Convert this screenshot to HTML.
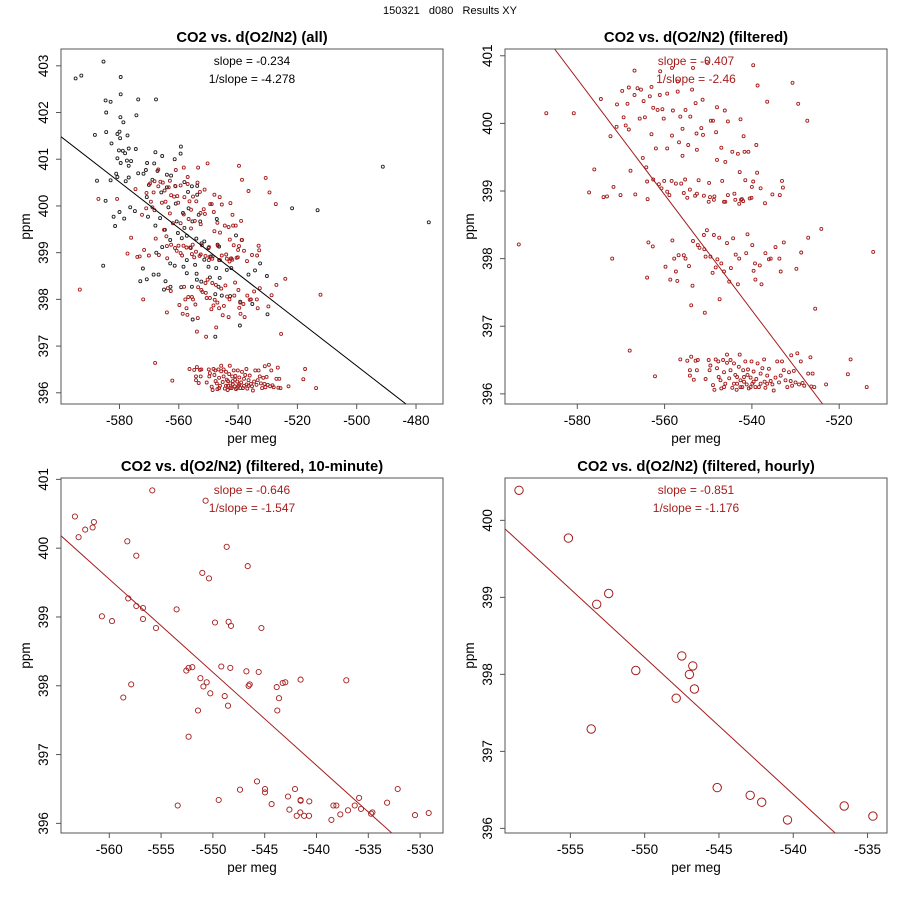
<!DOCTYPE html>
<html><head><meta charset="utf-8"><style>
html,body{margin:0;padding:0;background:#fff;}
svg{display:block;font-family:"Liberation Sans",sans-serif;}
</style></head><body>
<svg id="chart" width="900" height="900" viewBox="0 0 900 900">
<text x="450" y="14" text-anchor="middle" font-size="11" fill="#000" xml:space="preserve">150321   d080   Results XY</text>
</svg>
<script>
// ---- data (per meg, ppm) ----
const filteredX = [-593.4,-587.1,-580.8,-577.3,-576.1,-574.6,-574.0,-572.4,-572.0,-571.7,-571.0,-570.9,-569.7,-569.4,-568.9,-568.5,-568.2,-568.2,-567.8,-568.0,-566.9,-566.9,-566.2,-565.7,-565.4,-565.0,-564.8,-564.5,-564.2,-563.9,-563.7,-564.0,-563.4,-563.0,-563.0,-562.7,-562.6,-562.2,-562.0,-561.6,-561.1,-561.0,-560.5,-560.2,-559.4,-560.1,-559.8,-559.4,-558.9,-558.7,-558.4,-558.1,-558.3,-558.2,-557.8,-557.1,-557.0,-556.7,-556.4,-556.2,-555.9,-555.9,-555.6,-555.3,-555.2,-555.2,-554.6,-554.4,-554.1,-553.9,-553.9,-553.7,-553.6,-553.5,-553.0,-552.9,-552.7,-552.6,-552.2,-552.0,-551.6,-551.3,-551.2,-550.8,-550.6,-550.6,-549.8,-549.4,-549.0,-548.9,-548.7,-548.6,-548.2,-548.0,-548.0,-547.9,-547.5,-547.4,-547.0,-546.8,-546.4,-546.2,-546.1,-545.5,-545.5,-545.2,-544.5,-544.3,-544.0,-543.7,-543.2,-543.2,-542.8,-542.6,-542.5,-542.3,-541.9,-541.7,-541.5,-541.0,-540.8,-540.5,-540.0,-539.9,-539.7,-539.6,-539.3,-539.2,-539.0,-538.8,-538.7,-539.7,-538.2,-538.0,-537.8,-537.0,-536.9,-536.5,-536.1,-535.7,-535.3,-534.6,-533.7,-533.6,-533.4,-533.1,-532.9,-532.7,-530.7,-529.8,-529.4,-528.7,-527.3,-527.1,-525.5,-524.1,-512.2,
-558.3,-550.3,-553.5,-557.0,
-564.0,-562.6,-561.3,-560.7,-559.4,-557.4,-554.8,-554.2,-552.6,-551.0,-549.9,-549.6,-546.1,-543.8,-542.9,-542.0,-540.1,-573.2,-570.1,-566.7,
-552.4,-550.9,-549.5,-548.3,-547.0,-546.4,-544.8,-542.9,-541.3,-551.0,-548.7,-545.7,-550.3,-555.6,-556.8,-557.4,
-556.4,-554.8,-554.2,-554.2,-553.3,-552.9,-552.4,-552.6,-549.9,-549.5,-549.7,-548.9,-548.6,-548.3,-548.0,-547.7,-547.2,-547.0,-546.6,-546.4,-546.1,-545.7,-545.7,-545.2,-544.9,-544.9,-544.5,-544.1,-543.8,-543.5,-543.4,-543.0,-542.8,-542.6,-542.2,-542.0,-541.8,-541.5,-541.2,-540.9,-540.7,-540.3,-540.1,-539.9,-539.6,-539.2,-539.0,-538.7,-538.4,-538.0,-537.6,-537.2,-537.1,-536.9,-536.5,-536.1,-535.7,-535.3,-535.0,-534.6,-534.2,-533.8,-533.4,-533.1,-532.7,-532.3,-531.9,-531.5,-531.1,-531.0,-530.8,-530.4,-530.0,-529.6,-529.2,-528.8,-528.4,-528.0,-527.1,-526.6,-526.4,-526.1,-525.7,-523.0,-518.0,-517.4,-513.7,
-544.1,-542.6,-540.3,-543.4,-541.8,-539.6,-538.0,-541.0,-536.5,-546.4,-547.6];
const filteredY = [398.21,400.15,400.15,398.98,399.32,400.36,398.91,399.81,398.0,399.06,399.95,400.28,400.48,400.09,399.97,400.29,399.91,400.53,399.30,396.64,400.78,400.42,400.52,400.07,400.50,399.49,400.33,400.09,399.35,398.88,398.24,397.72,400.40,399.84,400.54,398.18,400.23,396.26,399.63,400.20,400.42,400.77,400.21,400.07,400.44,399.15,397.88,399.63,398.94,397.69,399.15,400.19,399.82,398.27,398.0,397.67,400.47,399.72,400.10,399.11,399.92,399.52,398.97,399.17,400.20,398.0,399.68,397.89,400.10,396.55,397.31,400.50,397.60,398.26,398.93,400.30,399.85,399.61,399.16,398.16,399.93,400.35,399.83,397.20,396.22,398.03,399.12,400.04,397.79,400.04,398.87,398.92,399.87,400.24,399.46,397.99,398.31,397.40,399.64,399.15,398.84,400.19,399.43,400.03,398.94,397.66,399.58,398.30,398.96,398.06,399.55,397.62,399.28,400.06,398.87,398.88,399.81,399.58,399.16,398.36,399.58,398.89,399.06,398.20,399.14,397.82,397.93,397.69,399.68,399.27,400.56,400.86,397.90,399.04,397.62,398.82,398.08,400.32,397.99,398.0,398.95,398.17,398.0,398.94,397.81,399.15,399.05,398.24,400.60,397.85,400.29,398.09,400.04,398.31,397.26,398.44,398.10,
400.82,400.91,400.82,400.62,
399.14,399.17,399.10,399.04,398.99,399.11,398.90,399.02,398.96,398.93,398.84,398.91,398.84,398.87,398.81,398.85,398.90,398.92,398.94,398.95,
398.20,398.14,398.03,397.87,397.93,397.81,397.86,398.0,398.08,398.35,398.35,398.23,398.42,398.05,398.05,397.81,
396.51,396.49,396.35,396.27,396.21,396.49,396.50,396.35,396.50,396.42,396.35,396.13,396.06,396.51,396.38,396.48,396.20,396.08,396.50,396.32,396.15,396.46,396.58,396.23,396.35,396.50,396.09,396.45,396.28,396.06,396.15,396.40,396.58,396.20,396.10,396.35,396.25,396.48,396.14,396.36,396.08,396.24,396.48,396.15,396.33,396.10,396.22,396.45,396.10,396.30,396.38,396.51,396.18,396.09,396.27,396.37,396.19,396.14,396.05,396.24,396.48,396.17,396.27,396.48,396.35,396.20,396.10,396.32,396.19,396.57,396.12,396.34,396.17,396.60,396.14,396.48,396.16,396.12,396.30,396.54,396.11,396.30,396.10,396.14,396.29,396.51,396.10,
396.15,396.10,396.10,396.25,396.18,396.18,396.15,396.28,396.15,396.10,396.25];
const excludedX = [-594.8,-592.9,-585.4,-579.6,-579.6,-584.7,-583.0,-573.7,-567.7,-584.5,-579.7,-574.3,-578.7,-588.3,-584.5,-580.7,-580.0,-577.3,-579.8,-582.7,-576.9,-574.5,-580.2,-578.9,-578.1,-559.3,-559.4,-567.9,-565.6,-561.4,-580.7,-579.6,-577.5,-576.1,-576.9,-570.7,-568.3,-573.7,-571.9,-571.1,-581.1,-580.7,-587.6,-583.0,-577.9,-576.9,-570.1,-568.9,-570.8,-567.2,-564.0,-562.6,-555.6,-556.9,-558.1,-561.2,-564.0,-565.9,-584.7,-580.0,-576.4,-574.8,-570.4,-567.9,-582.0,-581.5,-578.4,-566.3,-563.5,-561.0,-558.6,-560.7,-558.1,-555.4,-553.3,-552.8,-547.2,-564.7,-562.9,-560.3,-557.3,-554.1,-552.3,-550.0,-546.9,-546.4,-565.6,-567.6,-562.9,-561.4,-558.4,-557.3,-554.5,-550.0,-547.4,-543.8,-542.3,-540.7,-538.7,-532.6,-534.3,-536.5,-530.3,-572.1,-568.5,-566.8,-573.0,-570.8,-564.5,-565.0,-562.8,-559.2,-555.6,-553.9,-552.4,-549.5,-546.2,-546.6,-547.7,-545.5,-542.7,-539.3,-535.2,-530.1,-555.3,-547.7,-539.4,-585.5,-521.8,-513.2,-491.2,-475.7,-553.8,-553.8,-556.7,-559.0,-551.4,-556.0,-549.2,-551.4,-557.3,-554.0];
const excludedY = [402.73,402.79,403.09,402.76,402.39,402.26,402.23,402.28,402.28,402.0,401.90,401.94,401.79,401.52,401.58,401.54,401.59,401.51,401.45,401.34,401.23,401.22,401.19,401.18,401.13,401.27,401.12,401.15,401.07,401.0,401.02,400.92,400.97,400.96,400.86,400.92,400.91,400.70,400.69,400.77,400.69,400.62,400.54,400.55,400.53,400.61,400.45,400.56,400.19,400.75,400.67,400.65,400.42,400.30,400.51,400.43,400.40,400.29,400.11,399.87,399.97,399.89,399.77,399.58,399.77,399.57,399.73,399.74,399.97,400.05,399.85,399.67,399.53,399.67,399.81,399.67,399.72,399.49,399.27,399.42,399.36,399.30,399.20,399.10,399.17,399.13,399.12,399.0,398.77,398.72,398.70,398.84,398.74,398.70,398.67,398.63,398.67,399.37,399.27,398.77,398.62,398.53,398.50,398.66,398.53,398.53,398.39,398.43,398.39,398.21,398.27,398.26,398.27,398.42,398.38,398.47,398.46,398.27,398.11,398.08,398.07,397.95,397.90,397.68,397.57,397.20,397.44,398.72,399.95,399.91,400.84,399.65,400.43,400.24,399.95,399.31,399.24,399.10,398.92,398.85,398.56,398.55];
const tenMinX = [-563.32,-562.96,-562.32,-561.61,-561.48,-555.85,-550.70,-558.26,-557.39,-548.67,-546.64,-551.02,-550.38,-558.17,-557.39,-556.75,-560.71,-559.74,-556.75,-555.49,-553.50,-549.80,-548.48,-548.25,-545.32,-552.57,-552.34,-551.99,-549.19,-548.32,-546.77,-545.58,-551.21,-550.60,-550.92,-546.55,-546.45,-550.25,-548.86,-548.54,-543.84,-543.26,-543.01,-541.53,-543.62,-543.78,-537.12,-557.88,-558.65,-551.44,-552.34,-545.74,-547.38,-544.97,-544.97,-542.07,-542.75,-541.53,-541.53,-540.69,-549.44,-553.40,-544.33,-542.62,-541.56,-541.91,-541.20,-540.72,-538.56,-538.37,-538.08,-537.70,-536.96,-536.31,-535.89,-535.70,-534.73,-534.60,-533.19,-532.16,-530.49,-529.17];
const tenMinY = [400.46,400.16,400.27,400.30,400.38,400.84,400.69,400.10,399.89,400.02,399.74,399.64,399.56,399.27,399.16,399.13,399.01,398.94,398.97,398.84,399.11,398.92,398.93,398.87,398.84,398.22,398.26,398.27,398.28,398.26,398.21,398.20,398.11,398.05,397.99,398.00,398.02,397.89,397.85,397.71,397.98,398.04,398.05,398.09,397.82,397.64,398.08,398.02,397.83,397.64,397.26,396.61,396.49,396.50,396.45,396.50,396.39,396.34,396.33,396.32,396.34,396.26,396.28,396.20,396.16,396.11,396.11,396.11,396.05,396.26,396.26,396.13,396.19,396.26,396.37,396.21,396.14,396.16,396.30,396.50,396.12,396.15];
const hourlyX = [-558.46,-555.13,-553.23,-552.42,-550.6,-547.5,-546.76,-546.99,-546.65,-547.88,-553.6,-545.12,-542.9,-542.12,-540.39,-536.57,-534.64];
const hourlyY = [400.39,399.77,398.91,399.05,398.05,398.24,398.11,398.0,397.81,397.69,397.29,396.53,396.43,396.34,396.11,396.29,396.16];
// regression lines (endpoints in data units)
const fitAllX = [-599.7,-483.4], fitAllY = [401.48,395.76];
const fitFiltX = [-585.2,-523.8], fitFiltY = [401.10,395.85];
const fitTenX = [-564.66,-532.74], fitTenY = [400.18,395.86];
const fitHourX = [-559.40,-537.18], fitHourY = [399.89,395.94];
// tick labels
const p1XTicks = [-580,-560,-540,-520,-500,-480], p1YTicks = [396,397,398,399,400,401,402,403];
const p2XTicks = [-580,-560,-540,-520], p2YTicks = [396,397,398,399,400,401];
const p3XTicks = [-560,-555,-550,-545,-540,-535,-530], p3YTicks = [396,397,398,399,400,401];
const p4XTicks = [-555,-550,-545,-540,-535], p4YTicks = [396,397,398,399,400];

const NS = "http://www.w3.org/2000/svg";
const svg = document.getElementById('chart');
const RED = "#a51c1c";
function mk(tag, attrs, parent){const e=document.createElementNS(NS,tag);for(const k in attrs)e.setAttribute(k,attrs[k]);(parent||svg).appendChild(e);return e;}
function lin(d0,d1,r0,r1){return v=>r0+(v-d0)*(r1-r0)/(d1-d0);}

function panel(cfg){
  const g = mk('g',{});
  
  
  const sx = lin(cfg.xd[0],cfg.xd[1],cfg.L,cfg.R), sy = lin(cfg.yd[0],cfg.yd[1],cfg.B,cfg.T);
  const cid='clip-'+cfg.name;
  const defs=mk('defs',{},g); const cp=mk('clipPath',{id:cid},defs); mk('rect',{x:cfg.L,y:cfg.T,width:cfg.R-cfg.L,height:cfg.B-cfg.T},cp);
  const t = mk('text',{x:(cfg.L+cfg.R)/2,y:cfg.T-7,'text-anchor':'middle','font-size':'14.8','font-weight':'bold'},g);
  t.textContent=cfg.title;
  
  
  const box = mk('rect',{x:cfg.L,y:cfg.T,width:cfg.R-cfg.L,height:cfg.B-cfg.T,fill:'none',stroke:'#555','stroke-width':'1'},g);
  
  
  const xa = mk('g',{},g);
  
  
  mk('line',{x1:sx(cfg.xt[0]),x2:sx(cfg.xt[cfg.xt.length-1]),y1:cfg.B,y2:cfg.B,stroke:'#555'},xa);
  cfg.xt.forEach(v=>{
    mk('line',{x1:sx(v),x2:sx(v),y1:cfg.B,y2:cfg.B+5,stroke:'#555'},xa);
    const l=mk('text',{x:sx(v),y:cfg.B+21,'text-anchor':'middle','font-size':'13.5'},xa); l.textContent=String(v);
    
    
  });
  const xt=mk('text',{x:(cfg.L+cfg.R)/2,y:cfg.B+39,'text-anchor':'middle','font-size':'13.5'},g); xt.textContent='per meg';
  
  
  const ya = mk('g',{},g);
  
  
  mk('line',{x1:cfg.L,x2:cfg.L,y1:sy(cfg.yt[0]),y2:sy(cfg.yt[cfg.yt.length-1]),stroke:'#555'},ya);
  cfg.yt.forEach(v=>{
    mk('line',{x1:cfg.L-5,x2:cfg.L,y1:sy(v),y2:sy(v),stroke:'#555'},ya);
    const xx=cfg.L-13, yy=sy(v);
    const l=mk('text',{x:xx,y:yy,'text-anchor':'middle','font-size':'13.5',transform:`rotate(-90 ${xx} ${yy})`},ya); l.textContent=String(v);
    
    
  });
  const yx=cfg.L-31, yy=(cfg.T+cfg.B)/2;
  const ytl=mk('text',{x:yx,y:yy,'text-anchor':'middle','font-size':'13.5',transform:`rotate(-90 ${yx} ${yy})`},g); ytl.textContent='ppm';
  
  
  const pg = mk('g',{'clip-path':`url(#${cid})`},g);
  
  
  cfg.series.forEach(s=>{
    for(let i=0;i<s.x.length;i++){
      const c=mk('circle',{cx:sx(s.x[i]).toFixed(1),cy:sy(s.y[i]).toFixed(1),r:cfg.r,fill:'none',stroke:s.color,'stroke-width':cfg.sw},pg);
      
      
    }
  });
  const fl=mk('line',{x1:sx(cfg.fx[0]),y1:sy(cfg.fy[0]),x2:sx(cfg.fx[1]),y2:sy(cfg.fy[1]),stroke:cfg.lc,'stroke-width':'1','clip-path':`url(#${cid})`},g);
  
  
  const s1=mk('text',{x:(cfg.L+cfg.R)/2,y:cfg.T+16,'text-anchor':'middle','font-size':'12',fill:cfg.lc},g); s1.textContent=cfg.s1;
  
  
  const s2=mk('text',{x:(cfg.L+cfg.R)/2,y:cfg.T+34,'text-anchor':'middle','font-size':'12',fill:cfg.lc},g); s2.textContent=cfg.s2;
  
  
}

panel({name:'panel-all',title:'CO2 vs. d(O2/N2) (all)',L:61,R:443,T:49,B:404,xd:[-599.73,-470.9],yd:[395.76,403.36],xt:p1XTicks,yt:p1YTicks,r:1.5,sw:0.9,
  series:[{x:excludedX,y:excludedY,color:'#222',pname:'excluded-point'},{x:filteredX,y:filteredY,color:RED,pname:'filtered-point'}],
  fx:fitAllX,fy:fitAllY,lc:'#000',s1:'slope = -0.234',s2:'1/slope = -4.278'});
panel({name:'panel-filtered',title:'CO2 vs. d(O2/N2) (filtered)',L:505,R:887,T:49,B:404,xd:[-596.56,-509.05],yd:[395.85,401.10],xt:p2XTicks,yt:p2YTicks,r:1.5,sw:0.9,
  series:[{x:filteredX,y:filteredY,color:RED,pname:'filtered-point'}],
  fx:fitFiltX,fy:fitFiltY,lc:RED,s1:'slope = -0.407',s2:'1/slope = -2.46'});
panel({name:'panel-10-minute',title:'CO2 vs. d(O2/N2) (filtered, 10-minute)',L:61,R:443,T:478,B:833,xd:[-564.66,-527.79],yd:[395.86,401.02],xt:p3XTicks,yt:p3YTicks,r:2.6,sw:0.9,
  series:[{x:tenMinX,y:tenMinY,color:RED,pname:'ten-minute-point'}],
  fx:fitTenX,fy:fitTenY,lc:RED,s1:'slope = -0.646',s2:'1/slope = -1.547'});
panel({name:'panel-hourly',title:'CO2 vs. d(O2/N2) (filtered, hourly)',L:505,R:887,T:478,B:833,xd:[-559.40,-533.69],yd:[395.94,400.55],xt:p4XTicks,yt:p4YTicks,r:4.2,sw:1,
  series:[{x:hourlyX,y:hourlyY,color:RED,pname:'hourly-point'}],
  fx:fitHourX,fy:fitHourY,lc:RED,s1:'slope = -0.851',s2:'1/slope = -1.176'});
</script>
</body></html>
